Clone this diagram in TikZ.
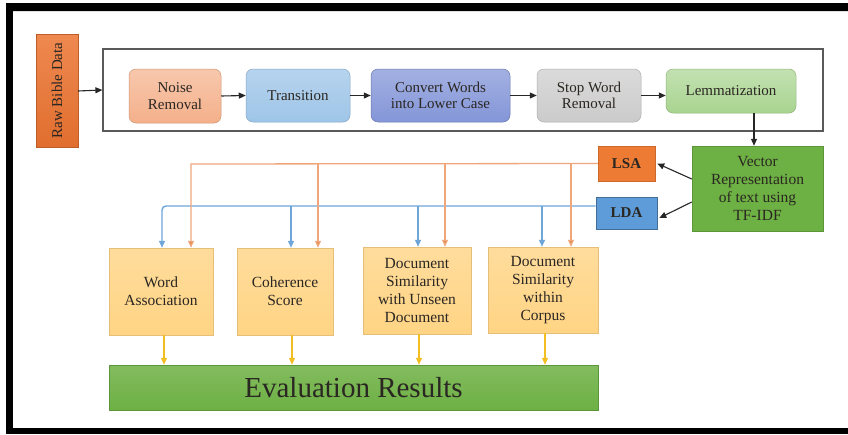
\documentclass[tikz,border=0pt]{standalone}
\usepackage{fontspec}
\setmainfont{Liberation Serif}
\newfontfamily\ser{Liberation Serif}
\usetikzlibrary{arrows.meta,calc}
\definecolor{txt}{HTML}{2A2622}
\definecolor{rawc}{HTML}{EC7431}
\definecolor{noisec}{HTML}{F4B08A}
\definecolor{transc}{HTML}{9EC5E8}
\definecolor{convc}{HTML}{8496D8}
\definecolor{stopc}{HTML}{CBCBCB}
\definecolor{lemc}{HTML}{A9D490}
\definecolor{greenc}{HTML}{6DB043}
\definecolor{lsac}{HTML}{EE7B33}
\definecolor{ldac}{HTML}{5D9CD8}
\definecolor{yelc}{HTML}{FFD484}
\definecolor{oline}{HTML}{EFA67A}
\definecolor{ohead}{HTML}{E8803F}
\definecolor{bline}{HTML}{6EA6DA}
\definecolor{gold}{HTML}{F2BE22}
\tikzset{
  proc/.style={rounded corners=7pt, align=center, text=txt,
    font=\ser\fontsize{15}{16.5}\selectfont, inner sep=2pt},
  sqbox/.style={align=center, text=txt,
    font=\ser\fontsize{15.5}{18}\selectfont, inner sep=2pt},
  blk/.style={-{Triangle[length=7pt,width=6pt]}, line width=1.1pt, draw=black!85},
  oarr/.style={-{Triangle[length=7pt,width=6pt,fill=ohead]}, line width=1.3pt, draw=oline},
  barr/.style={-{Triangle[length=7pt,width=6pt]}, line width=1.4pt, draw=bline},
  garr/.style={-{Triangle[length=7pt,width=6pt]}, line width=1.3pt, draw=gold},
}
\begin{document}
\begin{tikzpicture}[x=1pt,y=-1pt]
\fill[white] (0,0) rectangle (848,434);
\useasboundingbox (0,0) rectangle (848,434);
% black frame
\fill[black, rounded corners=2pt] (6,3) rectangle (852,11);
\fill[black] (6,3) rectangle (13,434);
\fill[black] (6,428) rectangle (852,434);

% raw data
\node[sqbox, top color=rawc!85!white, bottom color=rawc!95!black,
  draw=rawc!80!black, line width=0.5pt, rotate=90, anchor=center,
  minimum width=113pt, minimum height=42pt, font=\ser\fontsize{15}{17}\selectfont] (raw) at (57,90.5) {Raw Bible Data};

% big container
\node[draw=black!65, line width=1.2pt, minimum width=720pt, minimum height=82pt] (big) at (463,90) {};

\node[proc, minimum width=92pt, minimum height=54pt, top color=noisec!70!white, bottom color=noisec,
  draw=noisec!85!black, line width=0.5pt] (noise) at (175,96) {Noise\\Removal};
\node[proc, minimum width=104pt, minimum height=53pt, top color=transc!75!white, bottom color=transc,
  draw=transc!85!black, line width=0.5pt] (trans) at (298,95.5) {Transition};
\node[proc, minimum width=139pt, minimum height=53pt, top color=convc!75!white, bottom color=convc,
  draw=convc!80!black, line width=0.5pt] (conv) at (440.5,95.5) {Convert Words\\into Lower Case};
\node[proc, minimum width=104pt, minimum height=53pt, top color=stopc!70!white, bottom color=stopc,
  draw=stopc!85!black, line width=0.5pt] (stop) at (589,95.5) {Stop Word\\Removal};
\node[proc, minimum width=130pt, minimum height=44pt, top color=lemc!70!white, bottom color=lemc,
  draw=lemc!85!black, line width=0.5pt] (lem) at (731,91) {Lemmatization};

\node[sqbox, minimum width=131pt, minimum height=85pt, fill=greenc, draw=greenc!85!black, line width=0.5pt]
  (vec) at (757.5,188.5) {Vector\\Representation\\of text using\\TF-IDF};
\node[sqbox, minimum width=57pt, minimum height=35pt, fill=lsac, draw=lsac!85!black, line width=0.5pt,
  font=\ser\bfseries\fontsize{15}{17}\selectfont] (lsa) at (626.5,163.5) {LSA};
\node[sqbox, minimum width=61pt, minimum height=32pt, fill=ldac, draw=ldac!70!black, line width=0.6pt,
  font=\ser\bfseries\fontsize{15}{17}\selectfont] (lda) at (626.5,213) {LDA};

\node[sqbox, minimum width=104pt, minimum height=87pt, top color=yelc!80!white, bottom color=yelc,
  draw=yelc!90!black, line width=0.5pt] (word) at (161,291.5) {Word\\Association};
\node[sqbox, minimum width=96pt, minimum height=87pt, top color=yelc!80!white, bottom color=yelc,
  draw=yelc!90!black, line width=0.5pt] (coh) at (285,291.5) {Coherence\\Score};
\node[sqbox, minimum width=108pt, minimum height=87pt, top color=yelc!80!white, bottom color=yelc,
  draw=yelc!90!black, line width=0.5pt] (docu) at (417,290.5) {Document\\Similarity\\with Unseen\\Document};
\node[sqbox, minimum width=110pt, minimum height=86pt, top color=yelc!80!white, bottom color=yelc,
  draw=yelc!90!black, line width=0.5pt] (docc) at (543,290) {Document\\Similarity\\within\\Corpus};

\node[sqbox, minimum width=489pt, minimum height=45pt, top color=greenc!85!white, bottom color=greenc,
  draw=greenc!85!black, line width=0.5pt, font=\ser\fontsize{29}{32}\selectfont] (eval) at (353.5,387.5) {Evaluation Results};

% black arrows
\draw[blk] ([xshift=21pt,yshift=-0.5pt]raw.center) -- (big.west);
\draw[blk] (noise.east) -- (trans.west);
\draw[blk] (trans.east) -- (conv.west);
\draw[blk] (conv.east) -- (stop.west);
\draw[blk] (stop.east) -- (stop.east -| lem.west);
\draw[blk] ([xshift=23pt]lem.south) -- ([xshift=23pt]lem.south |- vec.north);
\draw[blk] ([yshift=9.5pt]vec.west) -- ([xshift=2pt]lsa.east);
\draw[blk] ([yshift=-13.5pt]vec.west) -- ([xshift=2pt,yshift=-5pt]lda.east);

% blue bus
\coordinate (b1) at (162,206);
\coordinate (b2) at (291,206);
\coordinate (b3) at (418,206);
\coordinate (b4) at (542,206);
\draw[barr, rounded corners=4pt] ([yshift=7pt]lda.west) -- (b1) -- (b1 |- word.north);
\draw[barr] (b2) -- (b2 |- coh.north);
\draw[barr] (b3) -- (b3 |- docu.north);
\draw[barr] (b4) -- (b4 |- docc.north);

% orange bus
\coordinate (o1) at (191,164);
\coordinate (o2) at (318,164);
\coordinate (o3) at (445,164);
\coordinate (o4) at (571,164);
\draw[oarr] (lsa.west) -- (o1) -- (o1 |- word.north);
\draw[oarr] (o2) -- (o2 |- coh.north);
\draw[oarr] (o3) -- (o3 |- docu.north);
\draw[oarr] (o4) -- (o4 |- docc.north);

% gold arrows
\draw[garr] ([xshift=3pt]word.south) -- ([xshift=3pt]word.south |- eval.north);
\draw[garr] ([xshift=7pt]coh.south) -- ([xshift=7pt]coh.south |- eval.north);
\draw[garr] ([xshift=2pt]docu.south) -- ([xshift=2pt]docu.south |- eval.north);
\draw[garr] ([xshift=2pt]docc.south) -- ([xshift=2pt]docc.south |- eval.north);
\end{tikzpicture}
\end{document}
